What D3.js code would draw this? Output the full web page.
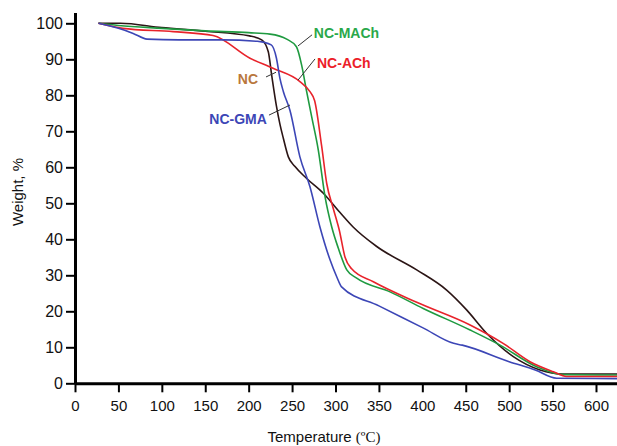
<!DOCTYPE html>
<html>
<head>
<meta charset="utf-8">
<script src="https://cdn.jsdelivr.net/npm/d3@7"></script>
<style>
  body { margin: 0; background: #fff; }
  svg { display: block; font-family: Arial, "Liberation Sans", sans-serif; }
</style>
</head>
<body>
<script>
// TGA curves: [temperature °C, weight %]
const ncData = [[27,100],[52,100],[100,98.8],[150,97.8],[201,96.5],[215,95.4],[222.6,92.1],[226.5,85.6],[232,77],[236,72],[240,68],[245.7,62.9],[253.4,60.2],[266.8,56.9],[286,52.8],[305,47.5],[320,43.5],[347.5,38],[393.5,31.5],[428,25.9],[451,20.4],[474,13.9],[504.8,7.4],[535.5,3.7],[562,2.6],[625,2.6]];
const macData = [[27,100],[50,99.4],[100,98.6],[150,97.9],[200,97.4],[224.6,97.0],[243.8,95.6],[255,93.5],[261,88.4],[266.8,81],[272.6,74],[280.2,64.8],[288,51.8],[295.6,43.5],[303.3,37.5],[313,31.5],[324.4,29.2],[362.8,25.4],[401,20.8],[455,14.8],[489.5,10.6],[531.7,4.6],[562,2.4],[625,2.3]];
const achData = [[27,100],[55,98.6],[113,97.7],[159,96.6],[201.5,90.3],[228,87.5],[259,83.8],[270.6,81],[276,78.5],[284,66],[289.9,55.5],[297.5,48.5],[304.4,42.5],[311,35],[318.6,31.8],[343.6,28.2],[393.5,22.5],[455,16.2],[493,11.1],[524,6],[551,3.2],[566,1.9],[625,1.9]];
const gmaData = [[27,100],[50,98.6],[67,97.2],[83,95.6],[120,95.4],[170,95.4],[210,95],[226,94],[232,90.3],[236,84.7],[240,81],[247.6,75.8],[259,62.9],[270.6,54.6],[282,43.5],[293.7,34.3],[301.4,29.6],[307,26.8],[350,21.5],[400.8,15.4],[436,11.1],[446,10.6],[500,6],[530,3.7],[554.7,1.4],[625,1.3]];

const seriesNames = ["NC", "NC-MACh", "NC-ACh", "NC-GMA"];
const seriesData = [ncData, macData, achData, gmaData];
const lineColors = ["#2b1515", "#1f9a40", "#e8232b", "#3c46b6"];
const labelColors = ["#b9773d", "#2aa84a", "#ec2028", "#3c46b6"];
// label anchor and leader line, in data units: [textX, textY, x1, y1, x2, y2]
const labelSpots = [
  [210.8, 84.5, 220, 85.1, 231.5, 86.4],
  [275, 97.3, 256.8, 93.7, 273, 96.8],
  [278.7, 89, 256.8, 84.2, 276.4, 90.1],
  [221, 73.4, 223.4, 74.5, 247.6, 77.3]
];
const labelAnchor = ["end", "start", "start", "end"];

const xTicks = d3.range(0, 601, 50);
const yTicks = d3.range(0, 101, 10);

const width = 617, height = 446;

const svg = d3.select("body").append("svg")
  .attr("width", width)
  .attr("height", height);

const x = d3.scaleLinear().domain([0, 625]).range([75, 617.7]);
const y = d3.scaleLinear().domain([0, 103]).range([383.3, 12.5]);

// axes
const xAxis = svg.append("g")
  .attr("transform", `translate(0, ${y(0)})`)
  .call(d3.axisBottom(x).tickValues(xTicks).tickSize(9).tickPadding(8).tickSizeOuter(0));
const yAxis = svg.append("g")
  .attr("transform", `translate(${x(0)}, 0)`)
  .call(d3.axisLeft(y).tickValues(yTicks).tickSize(9).tickPadding(3).tickSizeOuter(0));

[xAxis, yAxis].forEach(g => {
  g.select(".domain").attr("stroke", "#000").attr("stroke-width", 3);
  g.selectAll(".tick line").attr("stroke", "#000").attr("stroke-width", 2);
  g.selectAll(".tick text").attr("fill", "#111").style("font-size", "15px");
});
yAxis.selectAll(".tick text").style("font-size", "16px");

// lines
const line = d3.line()
  .x(d => x(d[0]))
  .y(d => y(d[1]))
  .curve(d3.curveMonotoneX);

svg.append("g").selectAll("path")
  .data(seriesData)
  .join("path")
  .attr("d", line)
  .attr("fill", "none")
  .attr("stroke", (d, i) => lineColors[i])
  .attr("stroke-width", 1.6);

// series labels with leader lines
const labels = svg.append("g");
labels.selectAll("line")
  .data(labelSpots)
  .join("line")
  .attr("x1", d => x(d[2])).attr("y1", d => y(d[3]))
  .attr("x2", d => x(d[4])).attr("y2", d => y(d[5]))
  .attr("stroke", "#333")
  .attr("stroke-width", 1);

labels.selectAll("text")
  .data(labelSpots)
  .join("text")
  .attr("x", d => x(d[0]))
  .attr("y", d => y(d[1]))
  .attr("dy", "0.35em")
  .attr("text-anchor", (d, i) => labelAnchor[i])
  .attr("fill", (d, i) => labelColors[i])
  .style("font-size", "14px")
  .style("font-weight", "bold")
  .text((d, i) => seriesNames[i]);

// axis titles
const xTitle = svg.append("text")
  .attr("x", 324)
  .attr("y", 442)
  .attr("text-anchor", "middle")
  .attr("fill", "#111")
  .style("font-size", "15px");
xTitle.append("tspan").text("Temperature ");
xTitle.append("tspan")
  .style("font-family", "'Liberation Serif', 'DejaVu Serif', serif")
  .style("font-size", "15px")
  .text("(ºC)");

svg.append("text")
  .attr("transform", "translate(23, 192) rotate(-90)")
  .attr("text-anchor", "middle")
  .attr("fill", "#111")
  .style("font-size", "15px")
  .text("Weight, %");
</script>
</body>
</html>
